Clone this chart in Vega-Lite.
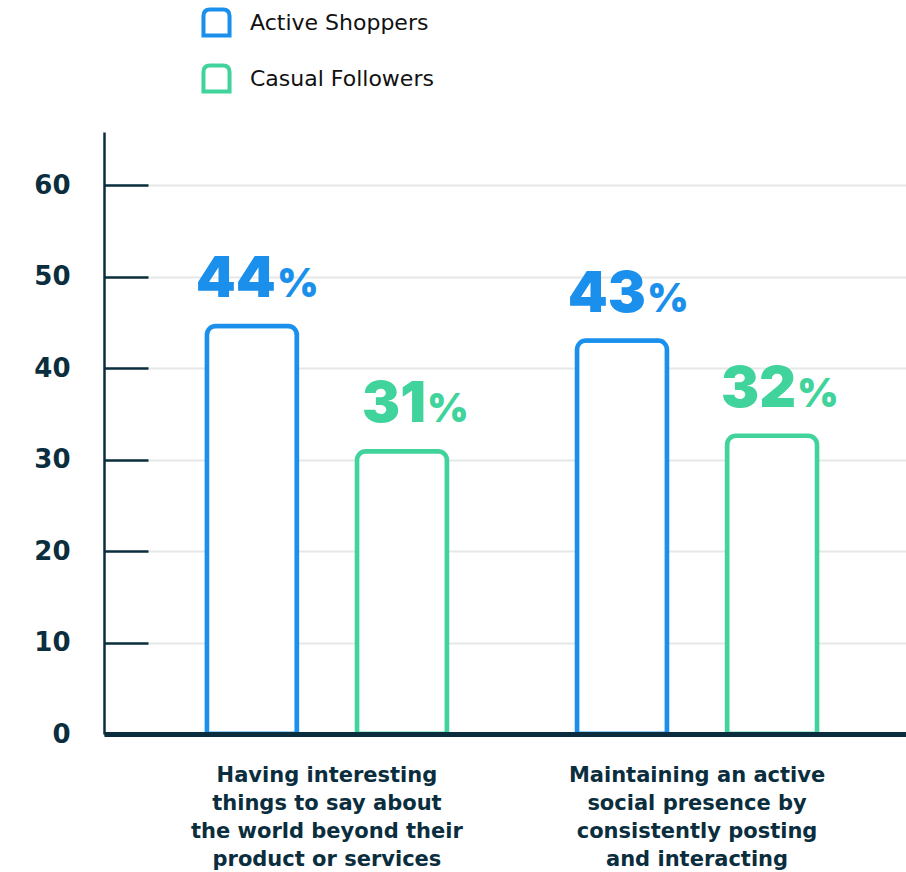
{
  "$schema": "https://vega.github.io/schema/vega-lite/v6.json",
  "width": 802,
  "height": 602,
  "autosize": {"type": "none"},
  "padding": {"left": 104, "top": 132, "right": 0, "bottom": 138},
  "background": "white",
  "config": {
    "view": {"stroke": null},
    "font": "DejaVu Sans"
  },
  "data": {
    "values": [
      {"question": "Having interesting|things to say about|the world beyond their|product or services", "group": "Active Shoppers", "value": 44.6, "num": "44", "pct": "%"},
      {"question": "Having interesting|things to say about|the world beyond their|product or services", "group": "Casual Followers", "value": 30.9, "num": "31", "pct": "%"},
      {"question": "Maintaining an active|social presence by|consistently posting|and interacting", "group": "Active Shoppers", "value": 43.0, "num": "43", "pct": "%"},
      {"question": "Maintaining an active|social presence by|consistently posting|and interacting", "group": "Casual Followers", "value": 32.6, "num": "32", "pct": "%"}
    ]
  },
  "encoding": {
    "x": {
      "field": "question",
      "type": "nominal",
      "sort": null,
      "scale": {"paddingInner": 0.189, "paddingOuter": 0.178, "align": 0.553},
      "axis": {
        "title": null,
        "labelExpr": "split(datum.label, '|')",
        "labelAngle": 0,
        "labelFont": "DejaVu Sans",
        "labelFontSize": 21,
        "labelFontWeight": "bold",
        "labelColor": "#0b2e3e",
        "labelLineHeight": 28,
        "labelPadding": 30,
        "labelBaseline": "top",
        "labelLimit": 0,
        "ticks": false,
        "domainColor": "#0b2e3e",
        "domainWidth": 5,
        "domainCap": "butt",
        "grid": false,
        "zindex": 2
      }
    },
    "xOffset": {
      "field": "group",
      "type": "nominal",
      "sort": ["Active Shoppers", "Casual Followers"],
      "scale": {"paddingInner": 0.4, "paddingOuter": 0.2}
    },
    "y": {
      "field": "value",
      "type": "quantitative",
      "scale": {"domain": [0, 65.8], "nice": false},
      "axis": {
        "title": null,
        "values": [0, 10, 20, 30, 40, 50, 60],
        "labelFont": "DejaVu Sans",
        "labelFontSize": 26,
        "labelFontWeight": "bold",
        "labelColor": "#0b2e3e",
        "labelPadding": 78,
        "tickSize": -44,
        "tickWidth": 2.5,
        "tickColor": "#0b2e3e",
        "domainColor": "#0b2e3e",
        "domainWidth": 2.5,
        "gridColor": "#e6e8e8",
        "gridWidth": 2,
        "zindex": 0
      }
    }
  },
  "layer": [
    {
      "mark": {"type": "bar", "filled": false, "fill": "white", "strokeWidth": 4.5, "cornerRadiusTopLeft": 9, "cornerRadiusTopRight": 9},
      "encoding": {
        "stroke": {
          "field": "group",
          "type": "nominal",
          "scale": {"domain": ["Active Shoppers", "Casual Followers"], "range": ["#1a90ec", "#40d39b"]},
          "legend": {
            "title": null,
            "orient": "none",
            "legendX": 97,
            "legendY": -125,
            "direction": "vertical",
            "symbolType": "M -1 1 L -1 -0.5 Q -1 -1 -0.5 -1 L 0.5 -1 Q 1 -1 1 -0.5 L 1 1 Z",
            "symbolSize": 680,
            "symbolFillColor": "white",
            "symbolStrokeWidth": 4,
            "labelFont": "DejaVu Sans",
            "labelFontSize": 22,
            "labelColor": "#111111",
            "labelOffset": 18,
            "labelLimit": 0,
            "rowPadding": 13
          }
        }
      }
    },
    {
      "mark": {"type": "text", "align": "right", "baseline": "alphabetic", "dy": -29, "dx": 24, "font": "Inter", "fontWeight": 900, "fontSize": 57},
      "encoding": {
        "text": {"field": "num"},
        "color": {"condition": {"test": "datum.group === 'Active Shoppers'", "value": "#1a90ec"}, "value": "#40d39b"}
      }
    },
    {
      "mark": {"type": "text", "align": "left", "baseline": "alphabetic", "dy": -29, "dx": 25, "font": "Inter", "fontWeight": 900, "fontSize": 40},
      "encoding": {
        "text": {"field": "pct"},
        "color": {"condition": {"test": "datum.group === 'Active Shoppers'", "value": "#1a90ec"}, "value": "#40d39b"}
      }
    }
  ]
}
